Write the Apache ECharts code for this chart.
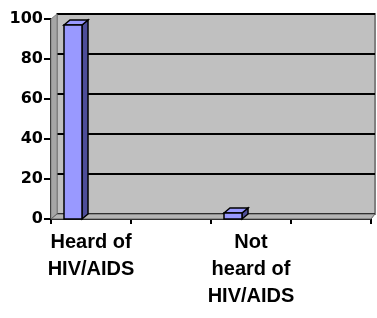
<!DOCTYPE html>
<html>
<head>
<meta charset="utf-8">
<script src="https://cdn.jsdelivr.net/npm/echarts@6/dist/echarts.min.js"></script>
<style>
  html, body { margin: 0; padding: 0; background: #fff; }
  #chart { width: 377px; height: 318px; }
</style>
</head>
<body>
<div id="chart"></div>
<script>
var categories = ['Heard of\nHIV/AIDS', '', 'Not\nheard of\nHIV/AIDS', ''];
var values = [97, null, 3, null];
var yTicks = [0, 20, 40, 60, 80, 100];

var chart = echarts.init(document.getElementById('chart'));

var barData = [];
categories.forEach(function (c, i) {
    if (values[i] !== null) {
        barData.push([i, values[i]]);
    }
});

// depth of the fake 3d
var dx = 6, dy = -5;

function renderBar(params, api) {
    var idx = api.value(0);
    var base = api.coord([idx, 0]);
    var top = api.coord([idx, api.value(1)]);
    var cx = base[0];
    var L = cx - 27, R = cx - 9;
    var y0 = base[1], y1 = top[1];
    var line = { stroke: '#000', lineWidth: 1.5 };
    return {
        type: 'group',
        children: [
            {
                type: 'polygon',
                shape: { points: [[R, y1], [R + dx, y1 + dy], [R + dx, y0 + dy], [R, y0]] },
                style: Object.assign({ fill: '#4d4d99' }, line)
            },
            {
                type: 'polygon',
                shape: { points: [[L, y1], [L + dx, y1 + dy], [R + dx, y1 + dy], [R, y1]] },
                style: Object.assign({ fill: '#9999ff' }, line)
            },
            {
                type: 'rect',
                shape: { x: L, y: y1, width: R - L, height: y0 - y1 },
                style: Object.assign({ fill: '#9999ff' }, line)
            }
        ]
    };
}

var option = {
    animation: false,
    backgroundColor: '#ffffff',
    grid: [
        {   // back wall
            left: 57, top: 14, width: 318, height: 200,
            show: true, backgroundColor: '#c0c0c0',
            borderColor: '#808080', borderWidth: 2
        },
        {   // front axes
            left: 51, top: 19, width: 320, height: 200
        }
    ],
    graphic: [
        {
            type: 'polygon', z: 1, silent: true,
            shape: { points: [[51, 19], [57, 14], [57, 214], [51, 219]] },
            style: { fill: '#a6a6a6', stroke: '#808080', lineWidth: 1 }
        },
        {
            type: 'polygon', z: 1, silent: true,
            shape: { points: [[51, 219], [57, 214], [375, 214], [371, 219]] },
            style: { fill: '#b4b4b4', stroke: '#606060', lineWidth: 1 }
        }
    ],
    xAxis: [
        {
            gridIndex: 0, type: 'category', data: categories, show: false
        },
        {
            gridIndex: 1, type: 'category', data: categories,
            boundaryGap: true,
            axisLine: { lineStyle: { color: '#000', width: 2 } },
            axisTick: { show: true, length: 5, lineStyle: { color: '#000', width: 2 } },
            axisLabel: {
                interval: 0, margin: 10, color: '#000',
                fontFamily: 'Liberation Sans', fontWeight: 'bold',
                fontSize: 20, lineHeight: 27
            },
            splitLine: { show: false }
        }
    ],
    yAxis: [
        {
            gridIndex: 0, type: 'value', min: 0, max: 100, interval: 20,
            axisLine: { show: false }, axisTick: { show: false },
            axisLabel: { show: false },
            splitLine: { show: true, lineStyle: { color: '#000', width: 2 } }
        },
        {
            gridIndex: 1, type: 'value', min: yTicks[0], max: yTicks[yTicks.length - 1], interval: 20,
            axisLine: { show: true, lineStyle: { color: '#000', width: 2 } },
            axisTick: { show: true, length: 7, lineStyle: { color: '#000', width: 2 } },
            axisLabel: {
                margin: 8, color: '#000',
                fontFamily: 'DejaVu Sans', fontWeight: 'bold', fontSize: 16
            },
            splitLine: { show: false }
        }
    ],
    series: [
        {
            type: 'custom',
            xAxisIndex: 1,
            yAxisIndex: 1,
            z: 5,
            renderItem: renderBar,
            encode: { x: 0, y: 1 },
            data: barData
        }
    ]
};

chart.setOption(option);
</script>
</body>
</html>
